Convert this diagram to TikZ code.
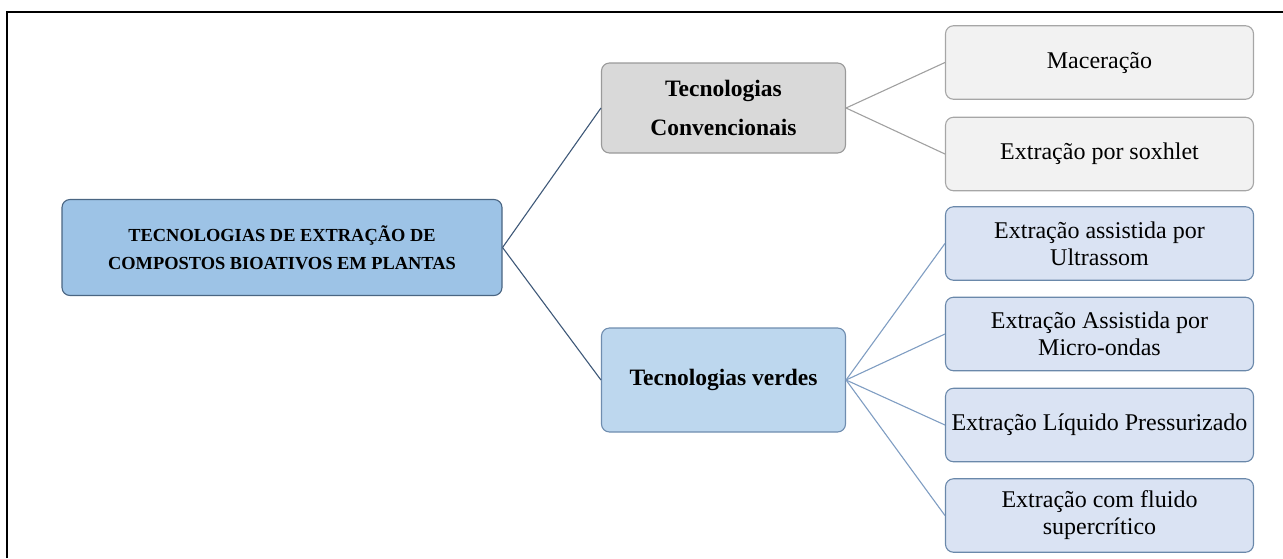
\documentclass[tikz,border=0pt]{standalone}
\usepackage{fontspec}
\setmainfont{Liberation Serif}
\definecolor{rootfill}{HTML}{9DC3E6}
\definecolor{rootdraw}{HTML}{4A6582}
\definecolor{convfill}{HTML}{D9D9D9}
\definecolor{convdraw}{HTML}{9A9A9A}
\definecolor{leaffill}{HTML}{F2F2F2}
\definecolor{leafdraw}{HTML}{A6A6A6}
\definecolor{verdfill}{HTML}{BDD7EE}
\definecolor{verddraw}{HTML}{6F8DAF}
\definecolor{greenfill}{HTML}{DAE3F3}
\definecolor{greendraw}{HTML}{6A88AA}
\definecolor{linkroot}{HTML}{3E5878}
\definecolor{linkconv}{HTML}{A0A0A0}
\definecolor{linkverd}{HTML}{7F9DC2}
\tikzset{
  box/.style={rectangle, rounded corners=8pt, line width=1.1pt, inner sep=0pt, align=center, text=black},
  rootbox/.style={box, fill=rootfill, draw=rootdraw, minimum width=440pt, minimum height=96pt,
    font=\fontsize{18.4}{28}\selectfont\bfseries},
  midbox/.style={box, minimum width=244pt, font=\fontsize{23.5}{39}\selectfont\bfseries},
  leafbox/.style={box, minimum width=308pt, minimum height=73.5pt, font=\fontsize{24}{27}\selectfont},
  convbox/.style={midbox, fill=convfill, draw=convdraw, minimum height=90pt},
  verdbox/.style={midbox, fill=verdfill, draw=verddraw, minimum height=104pt},
  greybox/.style={leafbox, fill=leaffill, draw=leafdraw},
  bluebox/.style={leafbox, fill=greenfill, draw=greendraw},
  link/.style={line width=1.1pt}
}
\begin{document}
\begin{tikzpicture}[x=1pt,y=-1pt]
\useasboundingbox (0,0) rectangle (1283,558);
\draw[line width=2pt, black] (6.5,558) -- (6.5,11.5) -- (1283,11.5);

\node[rootbox] (root) at (282,247.5) {TECNOLOGIAS DE EXTRAÇÃO DE\\COMPOSTOS BIOATIVOS EM PLANTAS};
\node[convbox] (conv) at (723.5,108) {Tecnologias\\Convencionais};
\node[verdbox] (verd) at (723.5,380) {Tecnologias verdes};

\node[greybox] (mac) at (1099.5,62.5) {Maceração};
\node[greybox] (sox) at (1099.5,154) {Extração por soxhlet};
\node[bluebox] (ultra) at (1099.5,243.5) {Extração assistida por\\Ultrassom};
\node[bluebox] (micro) at (1099.5,334) {Extração Assistida por\\Micro-ondas};
\node[bluebox] (liq) at (1099.5,425) {Extração Líquido Pressurizado};
\node[bluebox] (flu) at (1099.5,515.5) {Extração com fluido\\supercrítico};

\draw[link, linkroot] (root.east) -- (conv.west);
\draw[link, linkroot] (root.east) -- (verd.west);
\draw[link, linkconv] (conv.east) -- (mac.west);
\draw[link, linkconv] (conv.east) -- (sox.west);
\foreach \n in {ultra,micro,liq,flu}
  \draw[link, linkverd] (verd.east) -- (\n.west);
\end{tikzpicture}
\end{document}
